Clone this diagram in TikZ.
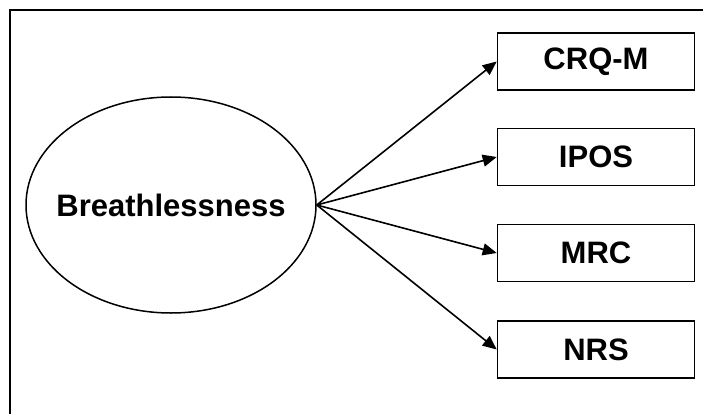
\documentclass[tikz,border=0pt]{standalone}
\usepackage{fontspec}
\setmainfont{Liberation Sans}
\usetikzlibrary{arrows.meta,shapes.geometric}

\tikzset{
  latent/.style={draw,ellipse,line width=1.5pt,minimum width=290pt,minimum height=216pt,
                 inner xsep=-24pt,inner ysep=0pt,
                 font=\fontsize{31}{36}\selectfont\bfseries},
  indicator/.style={draw,rectangle,line width=1.6pt,minimum width=197pt,minimum height=57pt,inner sep=0pt,
                 font=\fontsize{31}{36}\selectfont\bfseries},
  loading/.style={line width=1.6pt,-{Triangle[length=14pt,width=12pt]}}
}

\begin{document}
\begin{tikzpicture}[x=1pt,y=-1pt]
\useasboundingbox (0,0) rectangle (703,414);

% ======================= frame (runs off the right and bottom) =======
\draw[line width=2pt] (10,414) -- (10,10) -- (703,10);

% ======================= latent factor ==============================
\node[latent] (breath) at (171,205) {Breathlessness};

% ======================= observed measures ==========================
\node[indicator] (crqm) at (596,61.5)  {CRQ-M};
\node[indicator] (ipos) at (596,157)   {IPOS};
\node[indicator] (mrc)  at (596,253)   {MRC};
\node[indicator] (nrs)  at (596,349.5) {NRS};

% loadings, all leaving the right tip of the ellipse
\foreach \m in {crqm,ipos,mrc,nrs}
  {\draw[loading] (breath.east) -- (\m.west);}

\end{tikzpicture}
\end{document}
